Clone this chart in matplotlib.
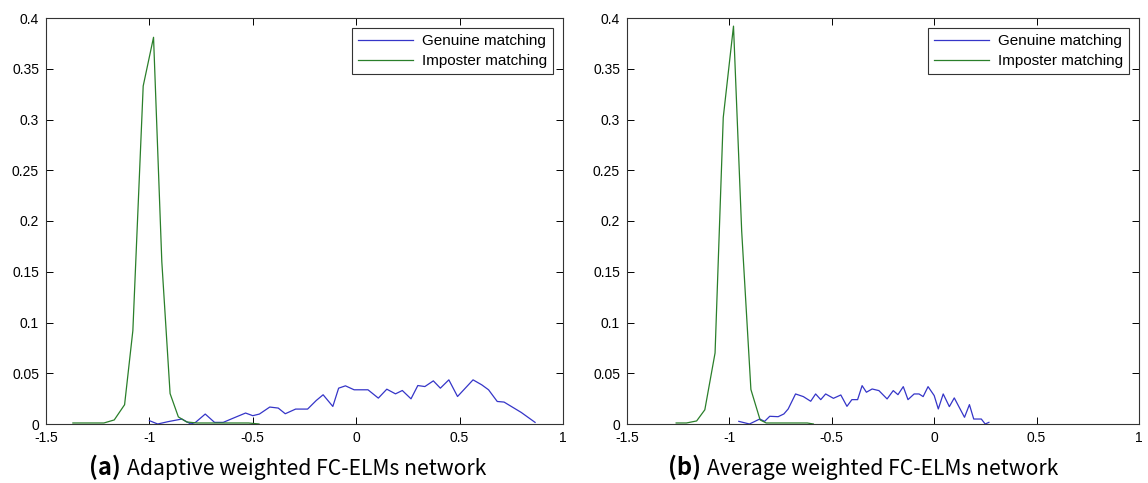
import matplotlib

matplotlib.use("Agg")
import matplotlib.pyplot as plt
from matplotlib.ticker import FormatStrFormatter

# (a) adaptive weighted network
gen_a_x = [-1.0, -0.96, -0.91, -0.843, -0.80, -0.777, -0.73, -0.685, -0.643, -0.593,
           -0.535, -0.50, -0.468, -0.418, -0.377, -0.343, -0.293, -0.235, -0.193, -0.16,
           -0.113, -0.085, -0.052, -0.01, 0.057, 0.107, 0.148, 0.19, 0.223, 0.265,
           0.298, 0.332, 0.373, 0.407, 0.448, 0.49, 0.565, 0.607, 0.64, 0.682,
           0.715, 0.798, 0.865]
gen_a_y = [0.0033, 0.0, 0.0023, 0.0049, 0.0, 0.0016, 0.0098, 0.0016, 0.0016, 0.0059,
           0.0108, 0.0082, 0.0098, 0.0167, 0.0157, 0.0101, 0.0147, 0.0147, 0.0232, 0.0288,
           0.0173, 0.0353, 0.0376, 0.0337, 0.0337, 0.0255, 0.0343, 0.0297, 0.033, 0.0248,
           0.0379, 0.0369, 0.0425, 0.0353, 0.0435, 0.0271, 0.0435, 0.0386, 0.0337, 0.0222,
           0.0216, 0.0114, 0.0016]
imp_a_x = [-1.37, -1.32, -1.27, -1.22, -1.17, -1.12, -1.08, -1.03, -0.98, -0.94,
           -0.90, -0.86, -0.82, -0.77, -0.72, -0.67, -0.62, -0.57, -0.52, -0.47]
imp_a_y = [0.001, 0.001, 0.001, 0.001, 0.004, 0.019, 0.092, 0.333, 0.381, 0.160,
           0.030, 0.007, 0.002, 0.001, 0.001, 0.001, 0.001, 0.001, 0.001, 0.0]

# (b) average weighted network
gen_b_x = [-0.954, -0.902, -0.852, -0.828, -0.803, -0.762, -0.734, -0.713, -0.677, -0.639,
           -0.603, -0.579, -0.554, -0.53, -0.492, -0.456, -0.426, -0.402, -0.374, -0.352,
           -0.331, -0.303, -0.27, -0.23, -0.20, -0.177, -0.151, -0.128, -0.098, -0.074,
           -0.054, -0.03, 0.0, 0.02, 0.044, 0.074, 0.098, 0.148, 0.172, 0.193,
           0.23, 0.249, 0.267]
gen_b_y = [0.0026, 0.0, 0.0049, 0.0026, 0.0076, 0.0072, 0.0099, 0.0148, 0.0296, 0.027,
           0.0224, 0.0296, 0.024, 0.0296, 0.0253, 0.0286, 0.0174, 0.024, 0.024, 0.0378,
           0.0313, 0.0345, 0.0329, 0.0247, 0.0329, 0.0289, 0.0368, 0.024, 0.0296, 0.0296,
           0.027, 0.0368, 0.028, 0.0148, 0.0296, 0.0171, 0.0257, 0.0066, 0.0191, 0.0049,
           0.0049, 0.0, 0.0016]
imp_b_x = [-1.26, -1.21, -1.16, -1.12, -1.07, -1.03, -0.98, -0.94, -0.895, -0.85,
           -0.82, -0.77, -0.72, -0.67, -0.62, -0.59]
imp_b_y = [0.001, 0.001, 0.003, 0.014, 0.070, 0.302, 0.392, 0.190, 0.034, 0.004,
           0.001, 0.001, 0.001, 0.001, 0.001, 0.0]

panels = [
    ("(a)", "Adaptive weighted FC-ELMs network", gen_a_x, gen_a_y, imp_a_x, imp_a_y),
    ("(b)", "Average weighted FC-ELMs network", gen_b_x, gen_b_y, imp_b_x, imp_b_y),
]
x_ticks = [-1.5, -1, -0.5, 0, 0.5, 1]
y_ticks = [0, 0.05, 0.1, 0.15, 0.2, 0.25, 0.3, 0.35, 0.4]

W, H = 1148, 483
plt.rcParams["font.family"] = ["Liberation Sans", "DejaVu Sans"]
fig = plt.figure(figsize=(W / 100, H / 100), dpi=100)

# pixel boxes of the two axes: left, right, top, bottom
boxes = [(46, 563, 18, 424), (627, 1139, 18, 424)]
caption_pos = [(121, 127), (701, 707)]

for (tag, caption, gx, gy, ix, iy), (l, r, t, b), (cx_tag, cx_text) in zip(panels, boxes, caption_pos):
    ax = fig.add_axes([l / W, 1 - b / H, (r - l) / W, (b - t) / H])
    ax.plot(gx, gy, color="#3535c8", lw=0.9, label="Genuine matching")
    ax.plot(ix, iy, color="#2a7f2a", lw=0.9, label="Imposter matching")
    ax.set_xlim(-1.5, 1)
    ax.set_ylim(0, 0.4)
    ax.set_xticks(x_ticks)
    ax.set_yticks(y_ticks)
    ax.xaxis.set_major_formatter(FormatStrFormatter("%g"))
    ax.yaxis.set_major_formatter(FormatStrFormatter("%g"))
    ax.tick_params(direction="in", top=True, right=True, length=5, width=0.7,
                   labelsize=10, pad=5)
    for spine in ax.spines.values():
        spine.set_linewidth(0.8)
        spine.set_color("#333333")
    leg = ax.legend(loc="upper right", bbox_to_anchor=(0.981, 0.975), borderaxespad=0,
                    fontsize=11, fancybox=False, edgecolor="#333333", framealpha=1,
                    handlelength=3.6, borderpad=0.4, labelspacing=0.4, handletextpad=0.6)
    leg.get_frame().set_linewidth(0.8)

    fig.text(cx_tag / W, 1 - 475 / H, tag, ha="right", va="baseline", fontsize=17,
             fontweight="bold", family=["Noto Sans CJK KR", "DejaVu Sans"])
    fig.text(cx_text / W, 1 - 475 / H, caption, ha="left", va="baseline", fontsize=15.2,
             family=["Noto Sans CJK KR", "DejaVu Sans"])

fig.savefig("out.png", dpi=100)
plt.close(fig)
